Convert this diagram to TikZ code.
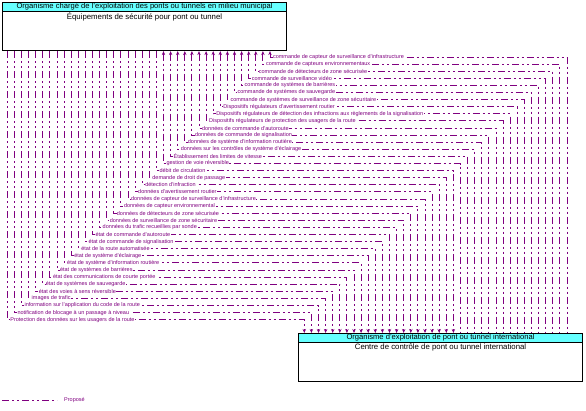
\documentclass[tikz,border=0pt]{standalone}
\usepackage{fontspec}
\setmainfont{Liberation Sans}
\usetikzlibrary{arrows.meta}
\definecolor{FlowPurple}{HTML}{800080}
\definecolor{HeadCyan}{HTML}{66FFFF}

\tikzset{
  box/.style={draw=black,line width=1.1pt,minimum width=284pt,minimum height=48pt,inner sep=0pt},
  headbar/.style={draw=black,line width=.8pt,fill=HeadCyan,minimum width=284pt,minimum height=8.5pt,inner sep=0pt,font=\fontsize{7.6}{8}\selectfont},
  bodytxt/.style={inner sep=0pt,font=\fontsize{7.8}{8}\selectfont},
  flow/.style={FlowPurple,line width=1pt,dash pattern=on 7pt off 3pt on 2pt off 3pt on 2pt off 3pt},
  flowlbl/.style={anchor=west,xshift=2.5pt,fill=white,inner sep=.4pt,text=FlowPurple,font=\fontsize{5.5}{6}\selectfont},
  toeqp/.style={arrows={Stealth[length=4pt,width=3.4pt]-}},
  toctr/.style={arrows={-Stealth[length=4pt,width=3.4pt]}}
}

% one flow: index, label, direction
\newcommand{\flowlink}[3]{%
  \coordinate (c#1) at ({270-(#1-1)*7.1},{57+(#1-1)*7.1});
  \coordinate (d#1) at ({567-(#1-1)*7.1},{57+(#1-1)*7.1});
  \draw[flow,#3] (eqp.south -| c#1) -- (c#1) -- (d#1) -- (ctr.north -| d#1);
  \node[flowlbl] (lbl#1) at (c#1) {#2};
}

\begin{document}
\begin{tikzpicture}[x=1pt,y=-1pt]
\path[use as bounding box] (0,0) rectangle (586,410);

% the two elements
\node[box,anchor=north west] (eqp) at (2,2) {};
\node[headbar,anchor=north] (eqphd) at (eqp.north) {Organisme chargé de l'exploitation des ponts ou tunnels en milieu municipal};
\node[bodytxt,anchor=north] (eqptx) at ([yshift=-1.5pt]eqphd.south) {Équipements de sécurité pour pont ou tunnel};

\node[box,anchor=north west] (ctr) at (298,333) {};
\node[headbar,anchor=north] (ctrhd) at (ctr.north) {Organisme d'exploitation de pont ou tunnel international};
\node[bodytxt,anchor=north] (ctrtx) at ([yshift=-1.5pt]ctrhd.south) {Centre de contrôle de pont ou tunnel international};

% flows
\flowlink{1}{commande de capteur de surveillance d'infrastructure}{toeqp}
\flowlink{2}{commande de capteurs environnementaux}{toeqp}
\flowlink{3}{commande de détecteurs de zone sécurisée}{toeqp}
\flowlink{4}{commande de surveillance vidéo}{toeqp}
\flowlink{5}{commande de systèmes de barrières}{toeqp}
\flowlink{6}{commande de systèmes de sauvegarde}{toeqp}
\flowlink{7}{commande de systèmes de surveillance de zone sécuritaire}{toeqp}
\flowlink{8}{Dispositifs régulateurs d'avertissement routier}{toeqp}
\flowlink{9}{Dispositifs régulateurs de détection des infractions aux règlements de la signalisation}{toeqp}
\flowlink{10}{Dispositifs régulateurs de protection des usagers de la route}{toeqp}
\flowlink{11}{données de commande d'autoroute}{toeqp}
\flowlink{12}{données de commande de signalisation}{toeqp}
\flowlink{13}{données de système d'information routière}{toeqp}
\flowlink{14}{données sur les contrôles de système d'éclairage}{toeqp}
\flowlink{15}{Établissement des limites de vitesse}{toeqp}
\flowlink{16}{gestion de voie réversible}{toeqp}
\flowlink{17}{débit de circulation}{toctr}
\flowlink{18}{demande de droit de passage}{toctr}
\flowlink{19}{détection d'infraction}{toctr}
\flowlink{20}{données d'avertissement routier}{toctr}
\flowlink{21}{données de capteur de surveillance d'infrastructure}{toctr}
\flowlink{22}{données de capteur environnemental}{toctr}
\flowlink{23}{données de détecteurs de zone sécurisée}{toctr}
\flowlink{24}{données de surveillance de zone sécuritaire}{toctr}
\flowlink{25}{données du trafic recueillies par sonde}{toctr}
\flowlink{26}{état de commande d'autoroute}{toctr}
\flowlink{27}{état de commande de signalisation}{toctr}
\flowlink{28}{état de la route automatisée}{toctr}
\flowlink{29}{état de système d'éclairage}{toctr}
\flowlink{30}{état de système d'information routière}{toctr}
\flowlink{31}{état de systèmes de barrières}{toctr}
\flowlink{32}{état des communications de courte portée}{toctr}
\flowlink{33}{état de systèmes de sauvegarde}{toctr}
\flowlink{34}{état des voies à sens réversible}{toctr}
\flowlink{35}{images de trafic}{toctr}
\flowlink{36}{information sur l'application du code de la route}{toctr}
\flowlink{37}{notification de blocage à un passage à niveau}{toctr}
\flowlink{38}{Protection des données sur les usagers de la route}{toctr}

% legend
\coordinate (lgS) at (2,400);
\coordinate (lgE) at (57,400);
\draw[flow] (lgS) -- (lgE);
\node[anchor=west,inner sep=0pt,text=FlowPurple,font=\fontsize{5.5}{6}\selectfont] (lgtxt) at (64,400) {Proposé};
\end{tikzpicture}
\end{document}
